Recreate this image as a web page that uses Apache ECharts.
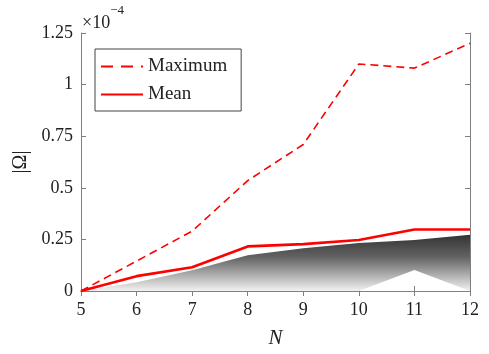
<!DOCTYPE html>
<html>
<head>
<meta charset="utf-8">
<script src="https://cdn.jsdelivr.net/npm/echarts@6/dist/echarts.min.js"></script>
<style>
  html, body { margin: 0; padding: 0; background: #fff; }
  #main { width: 489px; height: 354px; }
</style>
</head>
<body>
<div id="main"></div>
<script>
  // values in units of 1e-4
  var N = ['5', '6', '7', '8', '9', '10', '11', '12'];
  var maximum = [0, 0.145, 0.29, 0.535, 0.71, 1.10, 1.08, 1.20];
  var mean = [0, 0.072, 0.115, 0.216, 0.227, 0.247, 0.298, 0.298];
  // grey spread below the mean
  var spreadLow = [0, 0, 0, 0, 0, 0, 0.102, 0];
  var spreadHigh = [0, 0.042, 0.10, 0.173, 0.207, 0.233, 0.247, 0.272];
  var yTicks = ['0', '0.25', '0.5', '0.75', '1', '1.25'];

  var font = 'Liberation Serif';
  var axisGrey = '#808080';

  var myChart = echarts.init(document.getElementById('main'));

  myChart.setOption({
    animation: false,
    grid: { left: 81, right: 19, top: 33, bottom: 61 },
    legend: {
      left: 95, top: 49,
      orient: 'vertical',
      itemWidth: 42, itemHeight: 12, itemGap: 9,
      padding: [8, 14, 7, 5],
      borderColor: '#444', borderWidth: 1,
      backgroundColor: '#fff',
      itemStyle: { opacity: 0 },
      data: [
        { name: 'Maximum', lineStyle: { type: [12, 8] } },
        { name: 'Mean' }
      ],
      textStyle: { fontFamily: font, fontSize: 19, color: '#222' }
    },
    xAxis: [{
      type: 'category', boundaryGap: false, data: N,
      name: 'N', nameLocation: 'middle', nameGap: 37,
      nameTextStyle: { fontFamily: font, fontStyle: 'italic', fontSize: 21, color: '#222' },
      axisLine: { lineStyle: { color: axisGrey } },
      axisTick: { inside: true, length: 5, lineStyle: { color: axisGrey } },
      axisLabel: { fontFamily: font, fontSize: 18, color: '#222', margin: 10 },
      splitLine: { show: false }
    }, {
      type: 'category', boundaryGap: false, data: N, position: 'top',
      axisLine: { lineStyle: { color: axisGrey } },
      axisTick: { inside: true, length: 5, lineStyle: { color: axisGrey } },
      axisLabel: { show: false },
      splitLine: { show: false }
    }],
    yAxis: [{
      type: 'value', min: 0, max: 1.25, interval: 0.25,
      name: '|Ω|', nameLocation: 'middle', nameGap: 50,
      nameTextStyle: { fontFamily: font, fontSize: 20, color: '#222' },
      axisLine: { show: true, lineStyle: { color: axisGrey } },
      axisTick: { show: true, inside: true, length: 5, lineStyle: { color: axisGrey } },
      axisLabel: {
        fontFamily: font, fontSize: 18, color: '#222', margin: 8,
        formatter: function (v, i) { return yTicks[i]; }
      },
      splitLine: { show: false }
    }, {
      type: 'value', min: 0, max: 1.25, interval: 0.25, position: 'right',
      axisLine: { show: true, lineStyle: { color: axisGrey } },
      axisTick: { show: true, inside: true, length: 5, lineStyle: { color: axisGrey } },
      axisLabel: { show: false },
      splitLine: { show: false }
    }],
    graphic: [{
      type: 'text', left: 82, top: 4,
      style: {
        text: '{a|×10}{b|−4}',
        rich: {
          a: { fontFamily: font, fontSize: 18, fill: '#222', verticalAlign: 'bottom', padding: [10, 0, 0, 0] },
          b: { fontFamily: font, fontSize: 13, fill: '#222', verticalAlign: 'top' }
        }
      }
    }],
    series: [{
      name: 'low', type: 'line', stack: 'spread', symbol: 'none', silent: true,
      data: spreadLow,
      lineStyle: { width: 0, opacity: 0 },
      z: 1
    }, {
      name: 'spread', type: 'line', stack: 'spread', symbol: 'none', silent: true,
      data: spreadHigh.map(function (v, i) { return v - spreadLow[i]; }),
      lineStyle: { width: 0, opacity: 0 },
      areaStyle: {
        opacity: 1,
        color: new echarts.graphic.LinearGradient(0, 0, 0, 1, [
          { offset: 0, color: '#333333' },
          { offset: 0.4, color: '#636363' },
          { offset: 1, color: '#f2f2f2' }
        ])
      },
      z: 1
    }, {
      name: 'Maximum', type: 'line', symbol: 'none',
      data: maximum,
      itemStyle: { color: '#ff0000' },
      lineStyle: { color: '#ff0000', width: 1.6, type: [8, 5] },
      z: 3
    }, {
      name: 'Mean', type: 'line', symbol: 'none',
      data: mean,
      itemStyle: { color: '#ff0000' },
      lineStyle: { color: '#ff0000', width: 2.6 },
      z: 3
    }]
  });
</script>
</body>
</html>
